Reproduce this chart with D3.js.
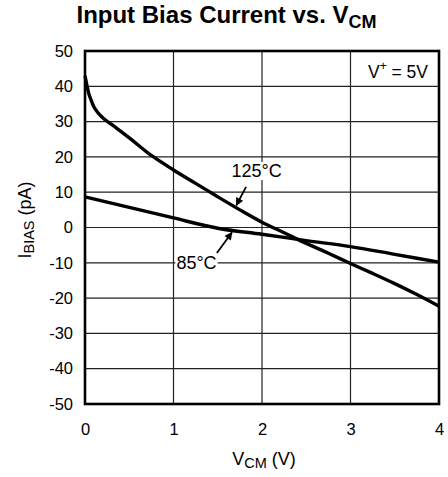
<!DOCTYPE html>
<html>
<head>
<meta charset="utf-8">
<script src="https://cdn.jsdelivr.net/npm/d3@7/dist/d3.min.js"></script>
<style>
  html, body { margin: 0; padding: 0; background: #fff; }
  svg { display: block; font-family: "Liberation Sans", Arial, Helvetica, sans-serif; }
</style>
</head>
<body>
<svg id="chart" width="448" height="477"></svg>
<script>
// Common-mode voltage samples (V)
const vcm125 = [0, 0.02, 0.04, 0.07, 0.1, 0.15, 0.2, 0.3, 0.5, 0.75, 1.0, 1.25, 1.5, 1.75, 2.0, 2.25, 2.5, 2.75, 3.0, 3.25, 3.5, 3.75, 4.0];
// Input bias current at 125°C (pA)
const ibias125 = [43, 40.5, 38.2, 36, 34.2, 32.4, 31.1, 29.2, 25.4, 20.4, 16.3, 12.5, 8.7, 5.0, 1.5, -1.5, -4.5, -7.3, -10.2, -13.0, -15.9, -19.0, -22.3];
const vcm85 = [0, 0.5, 1.0, 1.5, 2.0, 2.5, 3.0, 3.5, 4.0];
// Input bias current at 85°C (pA)
const ibias85 = [8.7, 5.7, 2.7, -0.2, -1.9, -3.7, -5.4, -7.6, -9.8];

const xTicks = [0, 1, 2, 3, 4];
const yTicks = [-50, -40, -30, -20, -10, 0, 10, 20, 30, 40, 50];

const svg = d3.select("#chart");
const plotLeft = 85, plotRight = 439, plotTop = 51, plotBottom = 404;

const x = d3.scaleLinear().domain([0, 4]).range([plotLeft, plotRight]);
const y = d3.scaleLinear().domain([-50, 50]).range([plotBottom, plotTop]);

// Grid
const grid = svg.append("g").attr("stroke", "#222").attr("stroke-width", 1.2);
grid.selectAll("line.v").data(xTicks.slice(1, -1)).join("line")
  .attr("class", "v")
  .attr("x1", d => x(d)).attr("x2", d => x(d))
  .attr("y1", plotTop).attr("y2", plotBottom);
grid.selectAll("line.h").data(yTicks.slice(1, -1)).join("line")
  .attr("class", "h")
  .attr("x1", plotLeft).attr("x2", plotRight)
  .attr("y1", d => y(d)).attr("y2", d => y(d));

// Axes (tick labels only, no tick marks); plain hyphen for negatives
const fmt = d => String(d);
const xAxis = d3.axisBottom(x).tickValues(xTicks).tickSize(0).tickPadding(19).tickFormat(fmt);
const yAxis = d3.axisLeft(y).tickValues(yTicks).tickSize(0).tickPadding(12).tickFormat(fmt);
const gx = svg.append("g").attr("transform", `translate(0,${plotBottom})`).call(xAxis);
const gy = svg.append("g").attr("transform", `translate(${plotLeft},0)`).call(yAxis);
[gx, gy].forEach(g => {
  g.select(".domain").remove();
  g.selectAll("text").attr("font-size", 16.5).attr("fill", "#000")
    .attr("font-family", "'Liberation Sans', Arial, sans-serif");
});

// Curves
const line = d3.line().x(d => x(d[0])).y(d => y(d[1])).curve(d3.curveMonotoneX);
const data125 = vcm125.map((v, i) => [v, ibias125[i]]);
const data85 = vcm85.map((v, i) => [v, ibias85[i]]);
const curves = svg.append("g").attr("fill", "none").attr("stroke", "#000")
  .attr("stroke-width", 3.4).attr("stroke-linejoin", "round");
curves.append("path").attr("d", line(data125));
curves.append("path").attr("d", line(data85));

// Frame
svg.append("rect").attr("x", plotLeft).attr("y", plotTop)
  .attr("width", plotRight - plotLeft).attr("height", plotBottom - plotTop)
  .attr("fill", "none").attr("stroke", "#000").attr("stroke-width", 2.6);

// Arrowhead marker
svg.append("defs").append("marker")
  .attr("id", "arrow").attr("viewBox", "0 0 10 10").attr("refX", 9).attr("refY", 5)
  .attr("markerWidth", 10).attr("markerHeight", 8).attr("markerUnits", "userSpaceOnUse")
  .attr("orient", "auto")
  .append("path").attr("d", "M0,0 L10,5 L0,10 Z").attr("fill", "#000");

// Curve labels with white backing and pointer arrows
function curveLabel(text, cx, cy, ax1, ay1, ax2, ay2) {
  const g = svg.append("g");
  const t = g.append("text").attr("x", cx).attr("y", cy).attr("text-anchor", "middle")
    .attr("dominant-baseline", "central").attr("font-size", 18).text(text);
  const bb = t.node().getBBox();
  g.insert("rect", "text").attr("x", bb.x - 1).attr("y", bb.y + 1)
    .attr("width", bb.width + 2).attr("height", bb.height - 2).attr("fill", "#fff");
  svg.append("line").attr("x1", ax1).attr("y1", ay1).attr("x2", ax2).attr("y2", ay2)
    .attr("stroke", "#000").attr("stroke-width", 1.8).attr("marker-end", "url(#arrow)");
}
curveLabel("125°C", x(1.94), y(16), x(1.82), y(11.5), x(1.71), y(6.3));
curveLabel("85°C", x(1.26), y(-10), x(1.49), y(-7.2), x(1.66), y(-1.4));

// Supply annotation
const sup = svg.append("text").attr("x", 428).attr("y", 78).attr("text-anchor", "end").attr("font-size", 17.5);
sup.append("tspan").text("V");
sup.append("tspan").attr("dy", -8).attr("font-size", 12).text("+");
sup.append("tspan").attr("dy", 8).text(" = 5V");

// Title
const title = svg.append("text").attr("x", 226.5).attr("y", 22.5).attr("text-anchor", "middle")
  .attr("font-size", 24).attr("font-weight", "bold").attr("font-family", "'Liberation Sans', Arial, sans-serif");
title.append("tspan").text("Input Bias Current vs. V");
title.append("tspan").attr("dy", 5.5).attr("font-size", 18).text("CM");

// X-axis label
const xl = svg.append("text").attr("x", 264).attr("y", 465).attr("text-anchor", "middle").attr("font-size", 18);
xl.append("tspan").text("V");
xl.append("tspan").attr("dy", 3).attr("font-size", 14.5).text("CM");
xl.append("tspan").attr("dy", -3).text(" (V)");

// Y-axis label
const yl = svg.append("text").attr("transform", "translate(31,220) rotate(-90)")
  .attr("text-anchor", "middle").attr("font-size", 18);
yl.append("tspan").text("I");
yl.append("tspan").attr("dy", 3).attr("font-size", 14.5).text("BIAS");
yl.append("tspan").attr("dy", -3).text(" (pA)");
</script>
</body>
</html>
